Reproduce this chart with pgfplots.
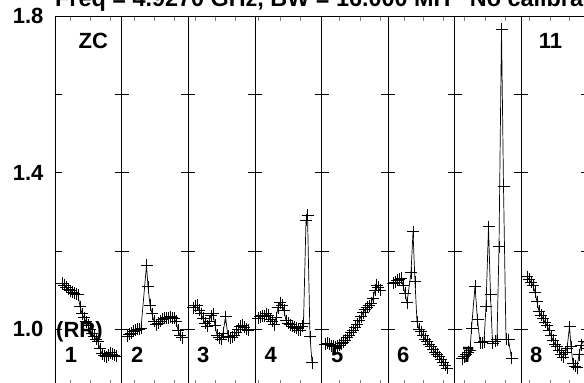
\documentclass[border=0pt]{standalone}
\usepackage{fontspec}
\setmainfont{Liberation Sans}
\usepackage{pgfplots}
\pgfplotsset{compat=1.18}
\begin{document}
\begin{tikzpicture}
\begin{axis}[
  at={(55pt,-2pt)}, anchor=south west,
  scale only axis, width=533pt, height=369pt,
  xmin=55, xmax=588, ymin=0.8577, ymax=1.8,
  axis line style={line width=0.8pt},
  xtick={70,90,110,134,154,174,195,215,235,258,280,300,339,360,380,404,423,443,464,485,505,529,550,569},
  xticklabels={}, xtick pos=both, tick align=inside, major tick length=5pt,
  xtick style={line width=0.6pt},
  ytick={1.0,1.4,1.8}, yticklabels={\textbf{1.0},\textbf{1.4},\raisebox{-4pt}{\textbf{1.8}}},
  ytick pos=left, ytick style={draw=none},
  yticklabel style={font=\fontsize{22}{22}\selectfont\bfseries, xshift=-8pt},
  pp/.style={black, line width=0.7pt, mark=+, mark size=6pt, mark options={solid, line width=0.8pt}},
]
% panel separators
\draw[line width=0.8pt] (axis cs:121.6,0.8577) -- (axis cs:121.6,1.8)
  (axis cs:188.25,0.8577) -- (axis cs:188.25,1.8)
  (axis cs:254.9,0.8577) -- (axis cs:254.9,1.8)
  (axis cs:321.5,0.8577) -- (axis cs:321.5,1.8)
  (axis cs:388.1,0.8577) -- (axis cs:388.1,1.8)
  (axis cs:454.75,0.8577) -- (axis cs:454.75,1.8)
  (axis cs:521.4,0.8577) -- (axis cs:521.4,1.8)
  (axis cs:588,0.8577) -- (axis cs:588,1.8);
\pgfplotsinvokeforeach{1.0,1.2,1.4,1.6}{
\draw[line width=0.7pt] (axis cs:55,#1) -- (axis cs:62,#1)
  (axis cs:114.6,#1) -- (axis cs:128.6,#1)
  (axis cs:181.25,#1) -- (axis cs:195.25,#1)
  (axis cs:247.9,#1) -- (axis cs:261.9,#1)
  (axis cs:314.5,#1) -- (axis cs:328.5,#1)
  (axis cs:381.1,#1) -- (axis cs:395.1,#1)
  (axis cs:447.75,#1) -- (axis cs:461.75,#1)
  (axis cs:514.4,#1) -- (axis cs:528.4,#1)
  (axis cs:581,#1) -- (axis cs:595,#1);
}
% panel 1
\addplot[pp] coordinates {(62,1.117)(64,1.112)(66,1.108)(68,1.102)(70,1.098)(72,1.095)(74,1.092)(76,1.090)(78,1.088)(80,1.058)(82,1.040)(84,1.030)(86,1.019)(88,1.011)(90,1.000)(92,0.990)(94,0.982)(96,0.975)(98,0.968)(100,0.950)(102,0.938)(104,0.933)(106,0.930)(108,0.935)(110,0.940)(112,0.936)(114,0.934)(116,0.932)};
% panel 2
\addplot[pp] coordinates {(127,0.982)(129,0.987)(131,0.990)(133,0.995)(135,0.998)(137,1.000)(139,1.000)(141,1.002)(146.5,1.164)(148,1.109)(150,1.062)(152,1.040)(154,1.020)(156,1.012)(158,1.015)(160,1.020)(162,1.025)(164,1.028)(166,1.030)(168,1.028)(170,1.032)(172,1.030)(174,1.028)(176,1.020)(178,0.998)(180,0.985)(182,0.978)};
% panel 3
\addplot[pp] coordinates {(193,1.055)(195,1.060)(197,1.062)(199,1.048)(201,1.040)(203,1.028)(205,1.015)(207,1.008)(209,1.020)(211,1.035)(213,1.040)(215,1.010)(217,0.985)(219,0.978)(221,0.975)(223,0.990)(225.5,1.032)(228,0.982)(230,0.978)(232,0.980)(234,0.985)(236,0.992)(238,1.000)(240,1.008)(242,1.010)(244,1.005)(246,1.000)(248,0.998)};
% panel 4
\addplot[pp] coordinates {(258,1.028)(260,1.032)(262,1.035)(264,1.034)(266,1.040)(268,1.036)(270,1.025)(272,1.020)(274,1.012)(276,1.030)(278,1.055)(280,1.068)(282,1.062)(284,1.048)(286,1.022)(288,1.015)(290,1.012)(292,1.008)(294,1.005)(296,1.002)(298,0.998)(300,0.998)(302,1.008)(303.5,1.015)(306,1.278)(307.5,1.292)(310,0.981)(312,0.915)};
% panel 5
\addplot[pp] coordinates {(325,0.962)(327,0.965)(329,0.962)(331,0.958)(333,0.957)(335,0.956)(337,0.958)(339,0.960)(341,0.963)(343,0.967)(345,0.972)(347,0.978)(349,0.985)(351,0.992)(353,0.998)(355,1.005)(357,1.013)(359,1.022)(361,1.032)(363,1.042)(365,1.050)(367,1.056)(369,1.060)(371,1.066)(373,1.080)(375,1.100)(376.5,1.112)(378,1.108)(380,1.100)};
% panel 6
\addplot[pp] coordinates {(393,1.117)(395,1.120)(397,1.126)(399,1.128)(401,1.130)(403,1.112)(405,1.092)(407,1.068)(411,1.144)(413,1.249)(415,1.121)(417,1.019)(419,1.000)(421,0.994)(423,0.985)(425,0.975)(427,0.970)(429,0.962)(431,0.955)(433,0.948)(435,0.942)(437,0.936)(439,0.930)(441,0.924)(443,0.916)(445,0.908)(447,0.900)};
% panel 7
\addplot[pp] coordinates {(462,0.925)(464,0.930)(466,0.936)(468,0.942)(470,0.947)(471.5,1.002)(475,1.110)(477.5,1.024)(480,0.966)(482,0.966)(484,0.968)(486,1.059)(488.5,1.262)(490.5,1.088)(492.5,0.964)(495,0.970)(497,0.973)(499,1.211)(501.5,1.767)(503.5,1.364)(506,0.975)(508.5,0.973)(511.5,0.926)};
% panel 8
\addplot[pp] coordinates {(527,1.134)(529,1.128)(531,1.120)(533,1.112)(535,1.095)(537,1.070)(539,1.046)(541,1.036)(543,1.028)(545,1.018)(547,1.010)(549,0.998)(551,0.984)(553,0.972)(555,0.962)(557,0.955)(559,0.945)(561,0.935)(563,0.928)(565,0.940)(567,0.950)(569.5,1.007)(571,0.955)(573,0.912)(575,0.905)(577,0.902)(579,0.935)(581,0.960)(584,0.970)(587,0.950)};
\end{axis}
\begin{scope}[every node/.style={inner sep=0pt, anchor=base west, font=\fontsize{22}{22}\selectfont\bfseries}]
\node[font=\fontsize{23.4}{23.4}\selectfont\bfseries] at (55pt,376pt) {Freq = 4.9270 GHz, BW = 16.000 MH\hspace{0.55em} No calibration};
\node at (78.5pt,334pt) {ZC};
\node at (56pt,45pt) {(RR)};
\node at (538.6pt,334pt) {11};
\node at (64.6pt,20pt) {1};
\node at (131pt,20pt) {2};
\node at (197pt,20pt) {3};
\node at (264.5pt,20pt) {4};
\node at (331pt,20pt) {5};
\node at (397pt,20pt) {6};
\node at (462pt,20pt) {7};
\node at (530pt,20pt) {8};
\end{scope}
\pgfresetboundingbox
\useasboundingbox (0pt,0pt) rectangle (584pt,383pt);
\end{tikzpicture}
\end{document}
